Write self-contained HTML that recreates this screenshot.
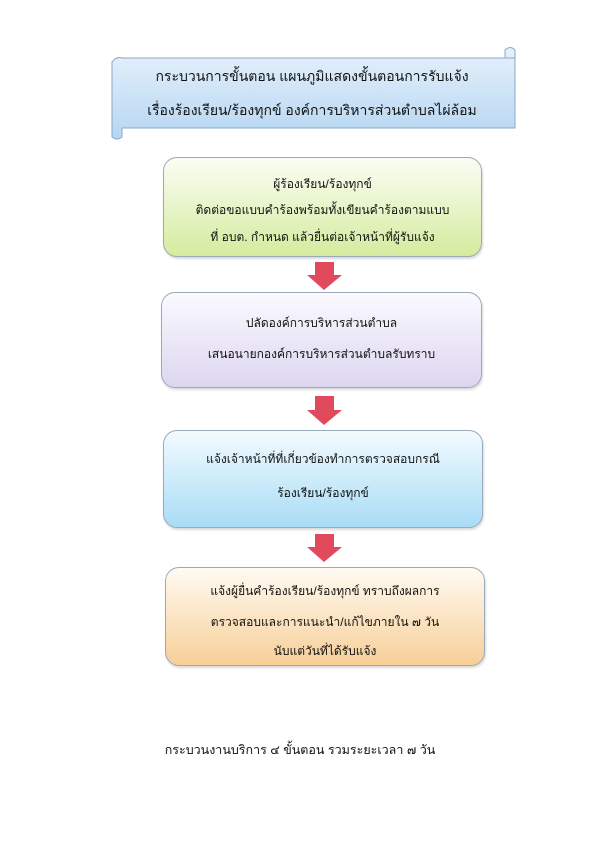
<!DOCTYPE html>
<html><head><meta charset="utf-8"><style>
body{margin:0;width:600px;height:852px;background:#fff;position:relative;overflow:hidden;font-family:"Liberation Sans","DejaVu Sans",sans-serif;color:#111}
.box{position:absolute;border:1px solid #9ab;border-radius:14px;box-sizing:border-box;text-align:center;font-size:12px;box-shadow:1px 2px 2px rgba(0,0,0,.15)}
.box div{position:absolute;left:0;right:0}
.t{position:absolute;left:0;right:0;text-align:center;font-size:12px}
</style></head><body>
<svg width="600" height="852" style="position:absolute;left:0;top:0">
<defs>
<linearGradient id="bn" x1="0" y1="0" x2="0" y2="1"><stop offset="0" stop-color="#e6f1fb"/><stop offset="1" stop-color="#b6d6f2"/></linearGradient>
</defs>
<path d="M122,58 L505,58 L505,50 Q510,45 515,50 L515,128 L122,128 L122,137 Q117,141 112,137 L112,62 Q117,56 122,58 Z" fill="url(#bn)" stroke="#8aa8c8" stroke-width="1"/>
<path d="M505,58 L515,58" stroke="#8aa8c8"/>
<g fill="#e14a5c">
<rect x="315" y="262" width="19" height="13"/><polygon points="307,275 342,275 324,290"/>
<rect x="315" y="396" width="19" height="14"/><polygon points="307,410 342,410 324,425"/>
<rect x="315" y="534" width="19" height="13"/><polygon points="307,547 342,547 324,562"/>
</g>
</svg>
<div class="t" style="top:66px;left:112px;right:88px;font-size:14px">กระบวนการขั้นตอน แผนภูมิแสดงขั้นตอนการรับแจ้ง</div>
<div class="t" style="top:100px;left:112px;right:88px;font-size:14px">เรื่องร้องเรียน/ร้องทุกข์ องค์การบริหารส่วนตำบลไผ่ล้อม</div>

<div class="box" style="left:163px;top:157px;width:319px;height:100px;background:linear-gradient(#fbfdf5,#d4ec9e)">
<div style="top:17px">ผู้ร้องเรียน/ร้องทุกข์</div>
<div style="top:43px">ติดต่อขอแบบคำร้องพร้อมทั้งเขียนคำร้องตามแบบ</div>
<div style="top:70px">ที่ อบต. กำหนด แล้วยื่นต่อเจ้าหน้าที่ผู้รับแจ้ง</div>
</div>
<div class="box" style="left:161px;top:292px;width:321px;height:96px;background:linear-gradient(#fbfaff,#dcd6f0)">
<div style="top:21px">ปลัดองค์การบริหารส่วนตำบล</div>
<div style="top:52px">เสนอนายกองค์การบริหารส่วนตำบลรับทราบ</div>
</div>
<div class="box" style="left:163px;top:430px;width:320px;height:98px;background:linear-gradient(#f3fbff,#a9dcf6)">
<div style="top:19px">แจ้งเจ้าหน้าที่ที่เกี่ยวข้องทำการตรวจสอบกรณี</div>
<div style="top:53px">ร้องเรียน/ร้องทุกข์</div>
</div>
<div class="box" style="left:165px;top:567px;width:320px;height:99px;background:linear-gradient(#fffaf2,#f7cf98)">
<div style="top:14px">แจ้งผู้ยื่นคำร้องเรียน/ร้องทุกข์ ทราบถึงผลการ</div>
<div style="top:45px">ตรวจสอบและการแนะนำ/แก้ไขภายใน ๗ วัน</div>
<div style="top:74px">นับแต่วันที่ได้รับแจ้ง</div>
</div>
<div class="t" style="top:740px;left:0;right:0;font-size:12.5px">กระบวนงานบริการ ๔ ขั้นตอน รวมระยะเวลา ๗ วัน</div>
</body></html>
